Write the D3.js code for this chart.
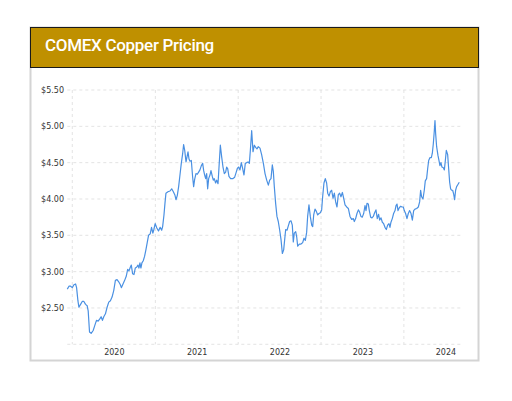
<!DOCTYPE html>
<html><head><meta charset="utf-8">
<script src="https://cdn.jsdelivr.net/npm/d3@7"></script>
<style>html,body{margin:0;padding:0;background:#fff;}svg{display:block;}</style>
</head><body>
<svg id="chart" width="512" height="401"></svg>
<script>
const title = "COMEX Copper Pricing";
const yTicks = [2.5, 3.0, 3.5, 4.0, 4.5, 5.0, 5.5];
const gridValues = [2.0, 2.5, 3.0, 3.5, 4.0, 4.5, 5.0, 5.5];
const yearLabels = [2020, 2021, 2022, 2023, 2024];

// time in years since 1 Jan 2020
const yearsSince2020 = [
-0.06,-0.04,-0.02,0.00,0.02,0.04,0.052,0.068,0.08,0.10,
0.12,0.14,0.16,0.18,0.192,0.208,0.228,0.252,0.272,0.292,
0.312,0.332,0.348,0.364,0.38,0.40,0.42,0.44,0.46,0.48,
0.50,0.52,0.54,0.56,0.58,0.592,0.612,0.632,0.652,0.668,
0.684,0.70,0.712,0.728,0.744,0.76,0.776,0.792,0.804,0.816,
0.828,0.84,0.856,0.872,0.888,0.904,0.92,0.94,0.956,0.972,
0.984,1.00,1.02,1.04,1.06,
1.078,1.090,1.106,1.118,1.130,1.154,1.179,1.199,1.219,1.239,
1.251,1.267,1.283,1.299,1.315,1.331,1.343,1.356,1.372,1.384,
1.396,1.408,1.420,1.436,1.452,1.464,1.476,1.492,1.508,1.524,
1.540,1.557,1.573,1.585,1.597,1.609,1.621,1.633,1.645,1.661,
1.673,1.689,1.701,1.713,1.729,1.742,1.758,1.770,1.786,1.802,
1.818,1.834,1.850,1.862,1.874,1.890,1.910,1.935,1.959,1.975,
1.991,2.007,2.023,2.039,2.055,2.071,2.087,2.103,2.120,2.136,
2.148,2.164,2.180,2.196,2.212,2.228,2.244,
2.264,2.284,2.305,2.325,2.345,2.365,2.381,2.397,2.413,2.425,
2.437,2.453,2.469,2.485,2.502,2.518,2.534,2.550,2.562,2.574,
2.590,2.606,2.622,2.638,2.654,2.666,2.678,2.695,2.707,2.719,
2.739,2.759,2.779,2.795,2.811,2.827,2.839,2.855,2.871,2.888,
2.900,2.912,2.928,2.944,2.960,2.976,2.992,3.008,3.020,3.036,
3.052,3.068,3.081,3.097,3.113,3.129,3.145,3.161,3.177,3.193,
3.209,3.225,3.241,3.258,3.274,3.290,3.310,3.330,3.350,3.370,
3.390,3.402,3.418,3.434,3.451,
3.466,3.482,3.498,3.515,3.531,3.543,3.555,3.571,3.583,3.599,
3.615,3.631,3.647,3.663,3.679,3.695,3.708,3.724,3.740,3.756,
3.772,3.788,3.804,3.820,3.832,3.844,3.860,3.876,3.893,3.905,
3.917,3.929,3.945,3.961,3.977,3.993,4.005,4.021,4.037,4.053,
4.069,4.086,4.102,4.118,4.134,4.154,4.174,4.190,4.202,4.214,
4.230,4.246,4.258,4.274,4.287,4.299,4.315,4.331,4.343,4.355,
4.367,4.375,4.383,4.395,4.411,4.423,4.435,4.447,4.459,4.476,
4.488,4.500,4.512,4.528,4.540,4.552,4.564,4.576,4.588,4.600,
4.612,4.624,4.636,4.652,4.668
];

// price, USD per pound
const price = [
2.76,2.80,2.80,2.78,2.82,2.83,2.78,2.60,2.51,2.55,
2.59,2.59,2.55,2.53,2.46,2.17,2.15,2.19,2.26,2.33,
2.32,2.35,2.38,2.33,2.38,2.42,2.51,2.58,2.60,2.65,
2.74,2.88,2.89,2.86,2.82,2.78,2.83,2.88,2.94,3.03,
3.01,3.06,3.09,2.97,2.96,3.05,3.06,3.09,3.05,3.12,
3.05,3.12,3.15,3.21,3.30,3.40,3.50,3.52,3.61,3.53,
3.58,3.66,3.60,3.56,3.61,
3.57,3.62,3.78,3.94,4.08,4.10,4.11,4.14,4.10,4.05,
3.99,4.05,4.17,4.33,4.49,4.62,4.75,4.67,4.51,4.58,
4.65,4.55,4.52,4.53,4.30,4.17,4.27,4.35,4.34,4.37,
4.40,4.46,4.49,4.39,4.33,4.28,4.35,4.14,4.28,4.33,
4.39,4.31,4.26,4.28,4.22,4.26,4.21,4.44,4.74,4.58,
4.44,4.35,4.37,4.44,4.42,4.31,4.28,4.28,4.30,4.36,
4.42,4.44,4.40,4.50,4.42,4.33,4.49,4.50,4.51,4.49,
4.67,4.94,4.65,4.74,4.71,4.69,4.72,
4.70,4.61,4.49,4.35,4.26,4.19,4.26,4.28,4.47,4.38,
4.17,3.94,3.76,3.69,3.57,3.44,3.25,3.30,3.44,3.58,
3.57,3.63,3.69,3.70,3.64,3.41,3.53,3.55,3.48,3.35,
3.38,3.38,3.40,3.46,3.43,3.54,3.76,3.92,3.76,3.64,
3.62,3.78,3.86,3.83,3.78,3.80,3.81,3.85,4.03,4.22,
4.28,4.22,4.08,4.04,4.10,4.12,4.01,4.08,3.96,3.89,
4.06,4.08,4.03,4.09,4.01,3.92,3.89,3.87,3.76,3.72,
3.73,3.69,3.73,3.80,3.85,
3.82,3.76,3.75,3.80,3.91,3.84,3.94,3.93,3.84,3.75,
3.74,3.76,3.81,3.85,3.73,3.79,3.71,3.74,3.68,3.66,
3.61,3.58,3.64,3.66,3.61,3.68,3.73,3.80,3.84,3.91,
3.93,3.84,3.88,3.90,3.89,3.89,3.84,3.80,3.73,3.80,
3.84,3.80,3.71,3.84,3.86,3.87,3.89,3.96,4.12,4.03,
4.00,4.12,4.25,4.28,4.42,4.53,4.57,4.57,4.63,4.76,
4.94,5.08,4.90,4.72,4.60,4.53,4.46,4.50,4.44,4.43,
4.40,4.53,4.67,4.61,4.42,4.23,4.14,4.12,4.12,4.07,
3.99,4.12,4.17,4.20,4.23
];

(function () {
const toDate = t => new Date(Date.UTC(2020, 0, 1) + t * 365.25 * 864e5);
const data = d3.zip(yearsSince2020, price).map(([t, v]) => ({date: toDate(t), value: v}));

const svg = d3.select("#chart");

// card
svg.append("rect").attr("x", 30.5).attr("y", 27.5).attr("width", 448).attr("height", 333)
  .attr("fill", "#fff").attr("stroke", "#d4d4d4").attr("stroke-width", 2);
// header
svg.append("rect").attr("x", 30.5).attr("y", 27.5).attr("width", 448).attr("height", 40)
  .attr("fill", "#BF9000").attr("stroke", "#1a1a1a").attr("stroke-width", 1);
svg.append("text").attr("x", 45).attr("y", 51)
  .attr("fill", "#fff").attr("font-family", "Roboto, 'Liberation Sans', sans-serif")
  .attr("font-size", 17).attr("font-weight", 500).attr("letter-spacing", -0.3)
  .text(title);

const pLeft = 67.3, pRight = 463, pTop = 90, pBottom = 344.3;
const x = d3.scaleTime().domain([toDate(-0.06), toDate(4.713)]).range([pLeft, pRight]);
const y = d3.scaleLinear().domain([2.0, 5.5]).range([pBottom, pTop]);

const grid = svg.append("g").attr("stroke", "#dcdcdc").attr("stroke-width", 0.8).attr("stroke-dasharray", "3,3");
grid.selectAll("line.h").data(gridValues).join("line").attr("class", "h")
  .attr("x1", pLeft).attr("x2", pRight).attr("y1", d => y(d)).attr("y2", d => y(d));
grid.selectAll("line.v").data(yearLabels).join("line").attr("class", "v")
  .attr("x1", d => x(new Date(Date.UTC(d, 0, 1)))).attr("x2", d => x(new Date(Date.UTC(d, 0, 1))))
  .attr("y1", pTop).attr("y2", pBottom);

// y axis labels
const yAxis = d3.axisLeft(y).tickValues(yTicks).tickSize(0).tickPadding(0)
  .tickFormat(d => "$" + d3.format(".2f")(d));
const ya = svg.append("g").attr("transform", `translate(64,0)`).call(yAxis);
ya.select(".domain").remove();
ya.selectAll("text").attr("font-family", "DejaVu Sans, sans-serif").attr("font-size", 8).attr("fill", "#333");

// x axis labels (centered mid-year)
const xAxis = d3.axisBottom(x).tickValues(yearLabels.map(d => new Date(Date.UTC(d, 6, 2))))
  .tickSize(0).tickPadding(0).tickFormat(d => d.getUTCFullYear());
const xa = svg.append("g").attr("transform", `translate(0,${pBottom + 5})`).call(xAxis);
xa.select(".domain").remove();
xa.selectAll("text").attr("font-family", "DejaVu Sans, sans-serif").attr("font-size", 8).attr("fill", "#333");

// line
svg.append("path").datum(data)
  .attr("fill", "none").attr("stroke", "#4A90E2").attr("stroke-width", 1.2)
  .attr("stroke-linejoin", "round")
  .attr("d", d3.line().x(d => x(d.date)).y(d => y(d.value)));
})();
</script>
</body></html>
